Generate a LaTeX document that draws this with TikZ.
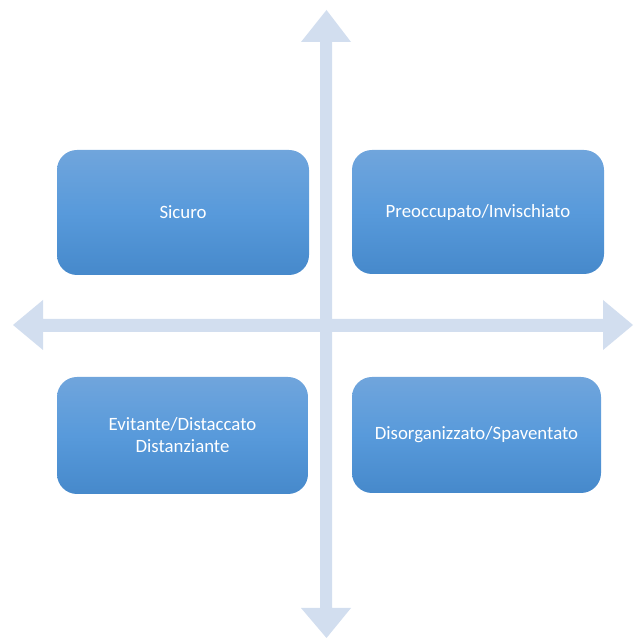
\documentclass[tikz,border=0pt]{standalone}
\usepackage{fontspec}
\setmainfont{Carlito}
\definecolor{boxtop}{RGB}{112,165,220}
\definecolor{boxmid}{RGB}{88,154,219}
\definecolor{boxbot}{RGB}{70,137,203}
\definecolor{axis}{RGB}{210,222,239}
\begin{document}
\begin{tikzpicture}[x=1pt,y=1pt,
  quad/.style={rounded corners=20pt, top color=boxtop, bottom color=boxbot, middle color=boxmid,
    text=white, align=center, font=\fontsize{18.8}{22}\selectfont, inner sep=0pt},
  axisfill/.style={fill=axis, draw=none}]
\useasboundingbox (0,0) rectangle (634,639);
% vertical double arrow
\fill[axisfill] (320,31) -- (301,31) -- (326.5,1) -- (351,31) -- (332,31) -- (332,597) -- (351,597) -- (326.5,629) -- (301,597) -- (320,597) -- cycle;
% horizontal double arrow
\fill[axisfill] (43,307) -- (43,289) -- (13,314) -- (43,339) -- (43,320) -- (603,320) -- (603,339) -- (633,314) -- (603,289) -- (603,307) -- cycle;
\node[quad, minimum width=252pt, minimum height=125pt] (sic) at (183,426.5) {Sicuro};
\node[quad, minimum width=252pt, minimum height=124pt] (pre) at (478,427) {Preoccupato/Invischiato};
\node[quad, minimum width=251pt, minimum height=117pt] (evi) at (182.5,203.5) {Evitante/Distaccato\\Distanziante};
\node[quad, minimum width=249pt, minimum height=116pt] (dis) at (476.5,204) {Disorganizzato/Spaventato};
\end{tikzpicture}
\end{document}
